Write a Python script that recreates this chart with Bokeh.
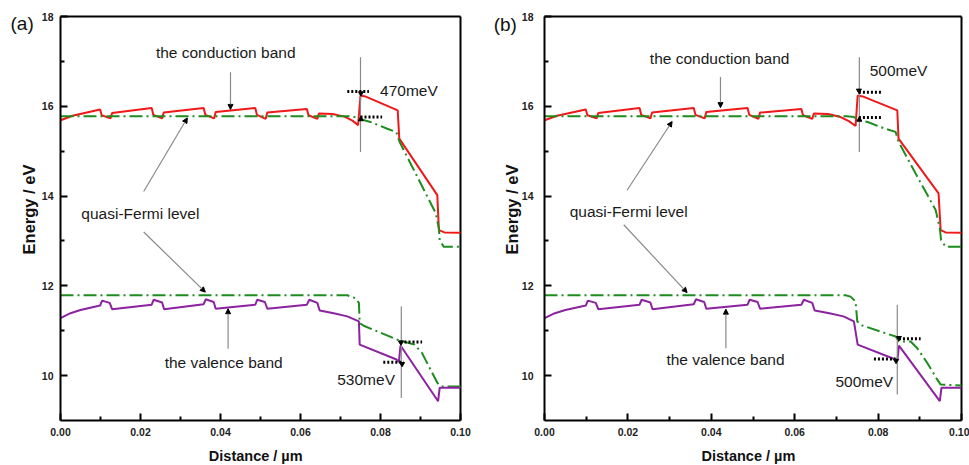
import math
from bokeh.plotting import figure
from bokeh.layouts import row
from bokeh.models import Range1d, FixedTicker, NumeralTickFormatter, Label, Arrow, NormalHead
from bokeh.embed import file_html
from bokeh.resources import INLINE

# ---------------- data ----------------
x_ticks = [0.0, 0.02, 0.04, 0.06, 0.08, 0.10]
x_minor = [0.01, 0.03, 0.05, 0.07, 0.09]
y_ticks = [10, 12, 14, 16, 18]
y_minor = [11, 13, 15, 17]
x_lim = (0.0, 0.1)
y_lim = (9.0, 18.0)

# panel (a)
cb_a_x = [0.0, 0.003, 0.0099, 0.0103, 0.0125, 0.0129, 0.0228, 0.0232, 0.0254, 0.0258,
          0.0358, 0.0362, 0.0384, 0.0388, 0.0487, 0.0491, 0.0513, 0.0517, 0.0616, 0.0620,
          0.0642, 0.0646, 0.0680, 0.0710, 0.0730, 0.0744, 0.0750, 0.0762, 0.0843, 0.0847,
          0.0942, 0.0946, 0.0960, 0.1000]
cb_a_y = [15.69, 15.79, 15.93, 15.80, 15.73, 15.85, 15.96, 15.81, 15.73, 15.86,
          15.96, 15.81, 15.73, 15.87, 15.96, 15.81, 15.72, 15.86, 15.94, 15.80,
          15.72, 15.84, 15.83, 15.77, 15.68, 15.58, 16.24, 16.22, 15.91, 15.28,
          14.02, 13.24, 13.19, 13.18]
qfu_a_x = [0.0, 0.0720, 0.0735, 0.0750, 0.0775, 0.0817, 0.0840, 0.0847, 0.0892, 0.0938,
           0.0946, 0.0948, 0.0958, 0.1000]
qfu_a_y = [15.78, 15.78, 15.76, 15.71, 15.65, 15.50, 15.42, 15.22, 14.43, 13.62,
           13.28, 13.02, 12.87, 12.87]
vb_a_x = [0.0, 0.0025, 0.005, 0.0099, 0.0104, 0.0123, 0.0129, 0.0228, 0.0233, 0.0254,
          0.0259, 0.0358, 0.0363, 0.0383, 0.0388, 0.0487, 0.0492, 0.0511, 0.0517, 0.0616,
          0.0622, 0.0642, 0.0648, 0.0683, 0.0717, 0.0746, 0.0748, 0.0840, 0.0846, 0.0850,
          0.0944, 0.0948, 0.1000]
vb_a_y = [11.28, 11.39, 11.46, 11.56, 11.67, 11.62, 11.48, 11.58, 11.69, 11.63,
          11.48, 11.59, 11.70, 11.64, 11.49, 11.58, 11.69, 11.64, 11.49, 11.58,
          11.69, 11.62, 11.45, 11.39, 11.32, 11.21, 10.69, 10.36, 10.30, 10.67,
          9.43, 9.73, 9.73]
qfl_a_x = [0.0, 0.0717, 0.0738, 0.0746, 0.0748, 0.0758, 0.0842, 0.0885, 0.0904, 0.0942,
           0.0952, 0.1000]
qfl_a_y = [11.79, 11.79, 11.72, 11.62, 11.17, 11.11, 10.80, 10.69, 10.50, 9.84,
           9.76, 9.76]

# panel (b)
cb_b_x = [0.0, 0.003, 0.0099, 0.0103, 0.0125, 0.0129, 0.0228, 0.0232, 0.0254, 0.0258,
          0.0358, 0.0362, 0.0384, 0.0388, 0.0487, 0.0491, 0.0513, 0.0517, 0.0616, 0.0620,
          0.0642, 0.0646, 0.0680, 0.0710, 0.0730, 0.0746, 0.0751, 0.0763, 0.0846, 0.0849,
          0.0945, 0.0950, 0.0962, 0.1000]
cb_b_y = [15.69, 15.79, 15.93, 15.80, 15.73, 15.85, 15.96, 15.81, 15.73, 15.86,
          15.96, 15.81, 15.73, 15.87, 15.96, 15.81, 15.72, 15.86, 15.94, 15.80,
          15.72, 15.84, 15.83, 15.76, 15.67, 15.56, 16.24, 16.22, 15.91, 15.28,
          14.06, 13.24, 13.19, 13.18]
qfu_b_x = [0.0, 0.0725, 0.0742, 0.0751, 0.0775, 0.0817, 0.0842, 0.0849, 0.0893, 0.0938,
           0.0948, 0.0951, 0.0962, 0.1000]
qfu_b_y = [15.78, 15.78, 15.76, 15.70, 15.65, 15.50, 15.43, 15.21, 14.45, 13.69,
           13.28, 13.02, 12.87, 12.87]
vb_b_x = [0.0, 0.0025, 0.005, 0.0099, 0.0104, 0.0123, 0.0129, 0.0228, 0.0233, 0.0254,
          0.0259, 0.0358, 0.0363, 0.0383, 0.0388, 0.0487, 0.0492, 0.0511, 0.0517, 0.0616,
          0.0622, 0.0642, 0.0648, 0.0683, 0.0717, 0.0742, 0.0751, 0.0842, 0.0846, 0.0850,
          0.0948, 0.0952, 0.1000]
vb_b_y = [11.28, 11.39, 11.46, 11.56, 11.67, 11.62, 11.48, 11.58, 11.69, 11.63,
          11.48, 11.59, 11.70, 11.64, 11.49, 11.58, 11.69, 11.64, 11.49, 11.58,
          11.69, 11.62, 11.45, 11.39, 11.32, 11.21, 10.69, 10.36, 10.32, 10.67,
          9.43, 9.73, 9.73]
qfl_b_x = [0.0, 0.0722, 0.0734, 0.0746, 0.0750, 0.0758, 0.0842, 0.0850, 0.0878, 0.0894,
           0.0918, 0.0942, 0.0950, 0.1000]
qfl_b_y = [11.79, 11.79, 11.76, 11.65, 11.21, 11.13, 10.87, 10.76, 10.76, 10.61,
           10.28, 9.91, 9.80, 9.78]

# ---------------- texts ----------------
panel_tags = ["(a)", "(b)"]
offset_a = ["470meV", "530meV"]
offset_b = ["500meV", "500meV"]
cb_text = "the conduction band"
qf_text = "quasi-Fermi  level"
vb_text = "the valence band"
x_title = "Distance / µm"
y_title = "Energy / eV"

RED = "#f01818"
GREEN = "#1f8c1f"
PURPLE = "#8c22a0"
GRAY = "#8a8a8a"
SANS = "Liberation Sans"

HEIGHT = 465
BOX_TOP = 16      # px from top of figure to y = 18
BOX_BOTTOM = 420  # px from top of figure to y = 9


def make_panel(width, box_left, box_w, ylab_standoff,
               cb_x, cb_y, qfu_x, qfu_y, vb_x, vb_y, qfl_x, qfl_y, ann):
    # The frame covers the whole figure so that every text (tag, axis titles) can be
    # placed inside it; the axes are pinned to the data box with fixed_location.
    sx = box_w / (x_lim[1] - x_lim[0])
    sy = (BOX_BOTTOM - BOX_TOP) / (y_lim[1] - y_lim[0])
    xr = Range1d(x_lim[0] - box_left / sx, x_lim[0] + (width - box_left) / sx)
    yr = Range1d(y_lim[0] - (HEIGHT - BOX_BOTTOM) / sy, y_lim[1] + BOX_TOP / sy)
    p = figure(width=width, height=HEIGHT, x_range=xr, y_range=yr,
               output_backend="svg", toolbar_location=None,
               min_border_left=0, min_border_right=0,
               min_border_top=0, min_border_bottom=0)
    p.grid.visible = False
    p.outline_line_color = None
    p.background_fill_color = "white"
    p.border_fill_color = "white"

    p.xaxis.ticker = FixedTicker(ticks=x_ticks, minor_ticks=x_minor)
    p.yaxis.ticker = FixedTicker(ticks=y_ticks, minor_ticks=y_minor)
    p.xaxis.formatter = NumeralTickFormatter(format="0.00")
    p.xaxis.bounds = x_lim
    p.yaxis.bounds = y_lim
    p.xaxis.fixed_location = y_lim[0]
    p.yaxis.fixed_location = x_lim[0]
    for ax in (p.xaxis, p.yaxis):
        ax.axis_line_width = 2
        ax.major_tick_in = 7
        ax.major_tick_out = 0
        ax.minor_tick_in = 4
        ax.minor_tick_out = 0
        ax.major_tick_line_width = 2
        ax.minor_tick_line_width = 2
        ax.major_label_text_font = SANS
        ax.major_label_text_font_style = "bold"
        ax.major_label_text_font_size = "10.5px"
        ax.major_label_text_color = "#222222"
    p.xaxis.major_label_standoff = 7
    p.yaxis.major_label_standoff = ylab_standoff

    # top and right edges of the box
    p.segment(x0=[x_lim[0], x_lim[1]], y0=[y_lim[1], y_lim[0]],
              x1=[x_lim[1], x_lim[1]], y1=[y_lim[1], y_lim[1]],
              line_color="black", line_width=2)

    # curves
    p.line(cb_x, cb_y, line_color=RED, line_width=2)
    p.line(qfu_x, qfu_y, line_color=GREEN, line_width=2, line_dash="13 4 2 4")
    p.line(qfl_x, qfl_y, line_color=GREEN, line_width=2, line_dash="13 4 2 4")
    p.line(vb_x, vb_y, line_color=PURPLE, line_width=2)

    # gray vertical guide lines
    p.segment(x0=ann["vl_x"], y0=ann["vl_y0"], x1=ann["vl_x"], y1=ann["vl_y1"],
              line_color=GRAY, line_width=1.2)
    # short dotted level markers
    p.segment(x0=ann["dot_x0"], y0=ann["dot_y"], x1=ann["dot_x1"], y1=ann["dot_y"],
              line_color="black", line_width=3, line_dash="2 2")
    p.scatter(ann["hd_x"], ann["hd_y"], marker=ann["hd_m"], size=5,
              fill_color="black", line_color="black")

    # pointer arrows
    for (xs, ys, xe, ye) in ann["arrows"]:
        p.add_layout(Arrow(x_start=xs, y_start=ys, x_end=xe, y_end=ye,
                           line_color=GRAY, line_width=1.2,
                           end=NormalHead(size=5, fill_color="black", line_color="black")))

    for (txt, x, y) in ann["labels"]:
        p.add_layout(Label(x=x, y=y, text=txt, text_align="center", text_baseline="middle",
                           text_font=SANS, text_font_size="15.5px", text_color="#1a1a1a"))
    # panel tag
    p.add_layout(Label(x=ann["tag"][1], y=ann["tag"][2], text=ann["tag"][0],
                       text_align="left", text_baseline="middle",
                       text_font=SANS, text_font_size="19px", text_color="#111111"))
    # axis titles
    p.add_layout(Label(x=ann["xt"][0], y=ann["xt"][1], text=x_title,
                       text_align="center", text_baseline="middle",
                       text_font=SANS, text_font_style="bold", text_font_size="14.5px",
                       text_color="#111111"))
    p.add_layout(Label(x=ann["yt"][0], y=ann["yt"][1], text=y_title, angle=math.pi / 2,
                       text_align="center", text_baseline="middle",
                       text_font=SANS, text_font_style="bold", text_font_size="16.5px",
                       text_color="#111111"))
    return p


ann_a = dict(
    vl_x=[0.0750, 0.0852], vl_y0=[17.09, 11.54], vl_y1=[14.98, 9.50],
    dot_x0=[0.0717, 0.0750, 0.0850, 0.0807], dot_x1=[0.0771, 0.0804, 0.0904, 0.0858],
    dot_y=[16.33, 15.76, 10.75, 10.30],
    hd_x=[0.0751, 0.0751, 0.0851, 0.0854], hd_y=[16.29, 15.71, 10.74, 10.26],
    hd_m=["inverted_triangle", "triangle", "inverted_triangle", "inverted_triangle"],
    arrows=[(0.0425, 16.76, 0.0425, 15.93), (0.0208, 14.10, 0.0317, 15.74),
            (0.0208, 13.20, 0.0362, 11.86), (0.0419, 10.60, 0.0419, 11.49)],
    labels=[(cb_text, 0.0413, 17.20), (qf_text, 0.0205, 13.62), (vb_text, 0.0408, 10.29),
            (offset_a[0], 0.0871, 16.36), (offset_a[1], 0.0764, 9.91)],
    tag=(panel_tags[0], -0.0125, 17.84),
    xt=(0.0488, 8.22),
    yt=(-0.0080, 13.70),
)
ann_b = dict(
    vl_x=[0.0755, 0.0846], vl_y0=[17.09, 11.58], vl_y1=[14.98, 9.58],
    dot_x0=[0.0754, 0.0754, 0.0850, 0.0790], dot_x1=[0.0810, 0.0810, 0.0902, 0.0842],
    dot_y=[16.31, 15.75, 10.82, 10.37],
    hd_x=[0.0754, 0.0755, 0.0850, 0.0843], hd_y=[16.35, 15.70, 10.84, 10.33],
    hd_m=["inverted_triangle", "triangle", "inverted_triangle", "inverted_triangle"],
    arrows=[(0.0422, 16.65, 0.0422, 15.97), (0.0198, 14.13, 0.0306, 15.66),
            (0.0190, 13.36, 0.0342, 11.85), (0.0435, 10.61, 0.0435, 11.48)],
    labels=[(cb_text, 0.0420, 17.06), (qf_text, 0.0207, 13.65), (vb_text, 0.0434, 10.36),
            (offset_b[0], 0.0849, 16.80), (offset_b[1], 0.0767, 9.87)],
    tag=(panel_tags[1], -0.0122, 17.82),
    xt=(0.0489, 8.22),
    yt=(-0.0079, 13.70),
)

# panel a: box from 60 px to 460 px; panel b (starting at page x 488): box 56 px .. 473 px
pa = make_panel(488, 60, 400, 7, cb_a_x, cb_a_y, qfu_a_x, qfu_a_y,
                vb_a_x, vb_a_y, qfl_a_x, qfl_a_y, ann_a)
pb = make_panel(481, 56, 417, 11, cb_b_x, cb_b_y, qfu_b_x, qfu_b_y,
                vb_b_x, vb_b_y, qfl_b_x, qfl_b_y, ann_b)

layout = row(pa, pb)
open("out.html", "w").write(file_html(layout, INLINE))
